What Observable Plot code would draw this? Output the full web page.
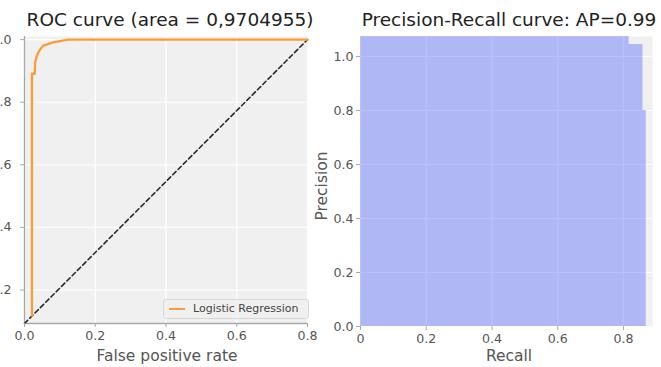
<!DOCTYPE html>
<html><head><meta charset="utf-8">
<script src="https://cdn.jsdelivr.net/npm/d3@7"></script>
<script src="https://cdn.jsdelivr.net/npm/@observablehq/plot@0.6"></script>
<style>
body{margin:0;background:#fff;font-family:"DejaVu Sans",sans-serif;}
#wrap{position:relative;width:661px;height:367px;overflow:hidden;background:#fff;}
.abs{position:absolute;white-space:nowrap;}
.title{font-size:18.5px;line-height:18.5px;color:#222;text-align:center;}
.alabel{font-size:15.5px;line-height:15.5px;color:#555;text-align:center;}
</style></head><body><div id="wrap"></div>
<script>
// ROC curve (Logistic Regression)
const rocFpr = [0.021, 0.021, 0.029, 0.030, 0.035, 0.042, 0.053, 0.081, 0.100, 0.123, 0.8];
const rocTpr = [0.118, 0.891, 0.891, 0.927, 0.949, 0.965, 0.981, 0.991, 0.995, 1.0, 1.0];
// chance diagonal as shown
const diagFpr = [0, 0.8];
const diagTpr = [0.093, 1.0];
// Precision-Recall steps
const recall = [0, 0.817, 0.859, 0.869];
const precision = [1.08, 1.044, 0.8, 0.8];
// tick values
const rocXTicks = [0, 0.2, 0.4, 0.6, 0.8];
const rocYTicks = [0.2, 0.4, 0.6, 0.8, 1.0];
const prXTicks = [0, 0.2, 0.4, 0.6, 0.8];
const prYTicks = [0, 0.2, 0.4, 0.6, 0.8, 1.0];
const legendLabel = "Logistic Regression";
const rocTitle = "ROC curve (area = 0,9704955)";
const prTitle = "Precision-Recall curve: AP=0.99";

const roc = rocFpr.map((f, i) => ({fpr: f, tpr: rocTpr[i]}));
const diag = diagFpr.map((f, i) => ({fpr: f, tpr: diagTpr[i]}));
const pr = recall.map((r, i) => ({recall: r, precision: precision[i]}));

const wrap = document.getElementById("wrap");
const bg = "#f0f0f0";
const axisStyle = {fontFamily: "DejaVu Sans", fontSize: "12.6px", color: "#555", background: "transparent", overflow: "visible"};

const left = Plot.plot({
  width: 360, height: 367,
  marginLeft: 54, marginRight: 23, marginTop: 36, marginBottom: 44,
  style: axisStyle,
  x: {domain: [0, 0.8], label: null},
  y: {domain: [0.093, 1.01], label: null},
  marks: [
    Plot.frame({fill: bg, stroke: null}),
    Plot.gridX(rocXTicks, {stroke: "#fff", strokeOpacity: 1, strokeWidth: 1.2}),
    Plot.gridY(rocYTicks, {stroke: "#fff", strokeOpacity: 1, strokeWidth: 1.2}),
    Plot.ruleX([0], {stroke: "#a8a8a8", strokeWidth: 1.3}),
    Plot.ruleY([0.093], {stroke: "#a8a8a8", strokeWidth: 1.3}),
    Plot.line(diag, {x: "fpr", y: "tpr", stroke: "#2a2a2a", strokeWidth: 1.6, strokeDasharray: "4.5,3"}),
    Plot.line(roc, {x: "fpr", y: "tpr", stroke: "#fb9d33", strokeWidth: 2.3, curve: "linear"}),
    Plot.axisX({ticks: rocXTicks, tickFormat: d => d.toFixed(1), tickSize: 4, tickPadding: 4, label: null, stroke: "#a8a8a8"}),
    Plot.axisY({ticks: rocYTicks, tickFormat: d => d.toFixed(1), tickSize: 4, tickPadding: 9, label: null, stroke: "#a8a8a8"})
  ]
});
left.style.position = "absolute";
left.style.left = "-30px";
left.style.top = "0px";
wrap.appendChild(left);

const right = Plot.plot({
  width: 361, height: 367,
  marginLeft: 60, marginRight: 9, marginTop: 36, marginBottom: 41,
  style: axisStyle,
  x: {domain: [0, 0.888], label: null},
  y: {domain: [0, 1.074], label: null},
  marks: [
    Plot.frame({fill: bg, stroke: null}),
    Plot.gridX(prXTicks, {stroke: "#fff", strokeOpacity: 1, strokeWidth: 1.2}),
    Plot.gridY(prYTicks, {stroke: "#fff", strokeOpacity: 1, strokeWidth: 1.2}),
    Plot.areaY(pr, {x: "recall", y: "precision", curve: "step-after", fill: "#3a4cff", fillOpacity: 0.35, clip: true}),
    Plot.axisX({ticks: prXTicks, tickFormat: d => d === 0 ? "0" : d.toFixed(1), tickSize: 4, tickPadding: 4, label: null, stroke: "#a8a8a8"}),
    Plot.axisY({ticks: prYTicks, tickFormat: d => d.toFixed(1), tickSize: 4, tickPadding: 3, label: null, stroke: "#a8a8a8"})
  ]
});
right.style.position = "absolute";
right.style.left = "300px";
right.style.top = "0px";
wrap.appendChild(right);

function addText(txt, cls, css) {
  const d = document.createElement("div");
  d.className = "abs " + cls;
  d.textContent = txt;
  Object.assign(d.style, css);
  wrap.appendChild(d);
  return d;
}
addText(rocTitle, "title", {left: "0px", width: "340px", top: "11px"});
addText(prTitle, "title", {left: "359px", width: "300px", top: "11px"});
addText("False positive rate", "alabel", {left: "67px", width: "200px", top: "349px"});
addText("Recall", "alabel", {left: "409px", width: "200px", top: "349px"});
addText("Precision", "alabel", {left: "223px", width: "200px", top: "178px", transform: "rotate(-90deg)", transformOrigin: "100px 8px"});

// legend
const lg = document.createElement("div");
lg.className = "abs";
Object.assign(lg.style, {left: "163px", top: "299px", width: "146px", height: "20px", background: "rgba(240,240,240,0.85)", border: "1px solid #d8d8d8", borderRadius: "3px", boxSizing: "border-box"});
const sw = document.createElement("div");
Object.assign(sw.style, {position: "absolute", left: "5px", top: "8px", width: "16px", height: "2.4px", background: "#fb9d33"});
lg.appendChild(sw);
const lt = document.createElement("div");
Object.assign(lt.style, {position: "absolute", left: "29px", top: "3px", fontSize: "11px", lineHeight: "12px", color: "#444", whiteSpace: "nowrap"});
lt.textContent = legendLabel;
lg.appendChild(lt);
wrap.appendChild(lg);
</script></body></html>
